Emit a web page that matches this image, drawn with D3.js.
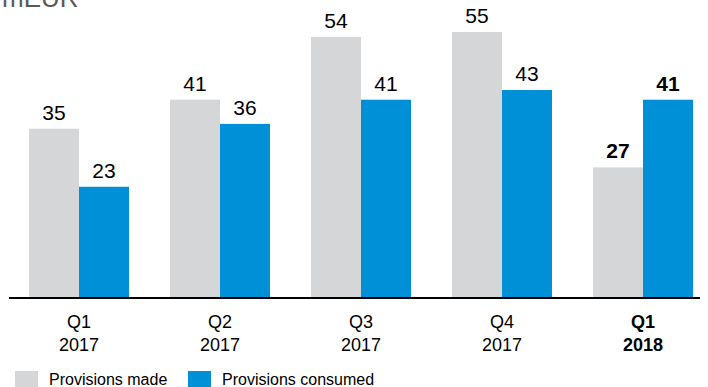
<!DOCTYPE html>
<html>
<head>
<meta charset="utf-8">
<script src="https://cdn.jsdelivr.net/npm/d3@7"></script>
<style>
  html, body { margin: 0; padding: 0; background: #fff; }
  svg { display: block; font-family: "Liberation Sans", Arial, sans-serif; }
</style>
</head>
<body>
<svg id="chart" width="708" height="387"></svg>
<script>
// Quarterly provisions, mEUR
const quarters = ["Q1", "Q2", "Q3", "Q4", "Q1"];
const years = ["2017", "2017", "2017", "2017", "2018"];
const provisionsMade = [35, 41, 54, 55, 27];
const provisionsConsumed = [23, 36, 41, 43, 41];
const seriesNames = ["Provisions made", "Provisions consumed"];
const seriesColors = ["#d5d6d8", "#0090d8"];
const highlightIndex = 4; // latest quarter shown in bold

const svg = d3.select("#chart");
const baseY = 298;

const x = d3.scaleBand()
  .domain(d3.range(quarters.length))
  .range([29, 693])
  .paddingInner(41 / 141)
  .paddingOuter(0);

const xs = d3.scaleBand()
  .domain([0, 1])
  .range([0, x.bandwidth()]);

const y = d3.scaleLinear().domain([0, 55]).range([baseY, 32]);

// unit label
svg.append("text")
  .attr("x", 2).attr("y", 7)
  .attr("font-size", 26).attr("fill", "#595959")
  .text("mEUR");

const groups = svg.selectAll("g.grp")
  .data(quarters.map((q, i) => ({ i, vals: [provisionsMade[i], provisionsConsumed[i]] })))
  .join("g")
  .attr("class", "grp")
  .attr("transform", d => `translate(${x(d.i)},0)`);

groups.selectAll("rect")
  .data(d => d.vals.map((v, s) => ({ v, s, i: d.i })))
  .join("rect")
  .attr("x", d => xs(d.s))
  .attr("width", xs.bandwidth())
  .attr("y", d => y(d.v))
  .attr("height", d => baseY - y(d.v))
  .attr("fill", d => seriesColors[d.s]);

groups.selectAll("text.val")
  .data(d => d.vals.map((v, s) => ({ v, s, i: d.i })))
  .join("text")
  .attr("class", "val")
  .attr("x", d => xs(d.s) + xs.bandwidth() / 2)
  .attr("y", d => y(d.v) - 9)
  .attr("text-anchor", "middle")
  .attr("font-size", 21)
  .attr("font-weight", d => d.i === highlightIndex ? "bold" : "normal")
  .attr("fill", "#000")
  .text(d => d.v);

// baseline
svg.append("line")
  .attr("x1", 9).attr("x2", 700)
  .attr("y1", baseY).attr("y2", baseY)
  .attr("stroke", "#000").attr("stroke-width", 2);

// category labels
groups.append("text")
  .attr("x", x.bandwidth() / 2)
  .attr("y", 328)
  .attr("text-anchor", "middle")
  .attr("font-size", 18)
  .attr("font-weight", d => d.i === highlightIndex ? "bold" : "normal")
  .text(d => quarters[d.i]);

groups.append("text")
  .attr("x", x.bandwidth() / 2)
  .attr("y", 351)
  .attr("text-anchor", "middle")
  .attr("font-size", 18)
  .attr("font-weight", d => d.i === highlightIndex ? "bold" : "normal")
  .text(d => years[d.i]);

// legend
const legendX = [15, 188];
const legend = svg.selectAll("g.leg")
  .data(seriesNames)
  .join("g")
  .attr("class", "leg")
  .attr("transform", (d, i) => `translate(${legendX[i]},371)`);

legend.append("rect")
  .attr("width", 23).attr("height", 18)
  .attr("fill", (d, i) => seriesColors[i]);

legend.append("text")
  .attr("x", 34).attr("y", 14)
  .attr("font-size", 16)
  .text(d => d);
</script>
</body>
</html>
